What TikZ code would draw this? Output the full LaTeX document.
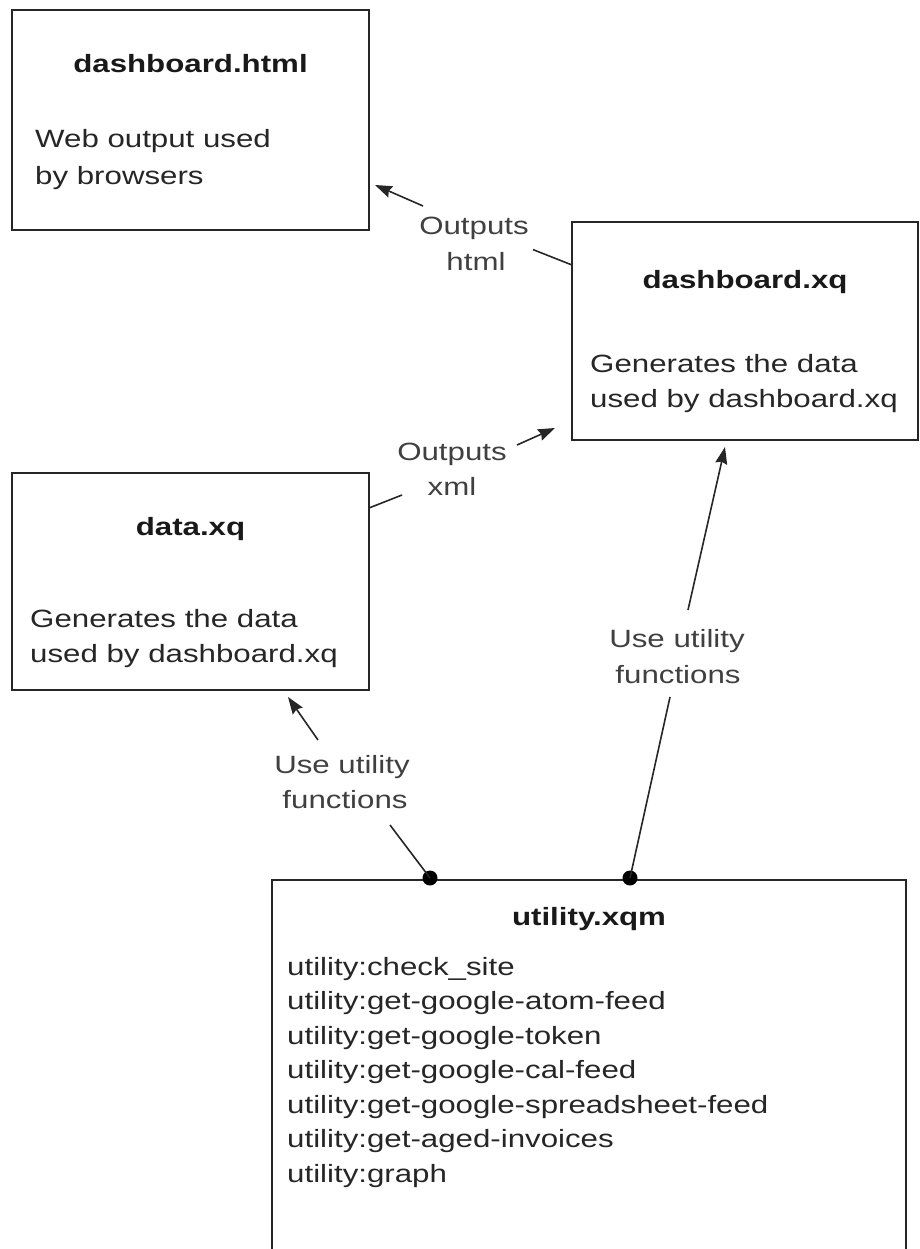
\documentclass[tikz,border=0pt]{standalone}
\usepackage{fontspec}
\setmainfont[FakeStretch=1.25]{Liberation Sans}
\usetikzlibrary{arrows.meta}

\begin{document}
\begin{tikzpicture}[x=1pt,y=-1pt,
  box/.style={draw=black!85, line width=1.8pt, inner sep=0pt, outer sep=0pt},
  title/.style={font=\fontsize{25}{35}\selectfont\bfseries, anchor=base, inner sep=0pt, text=black!90},
  body/.style={font=\fontsize{25}{35}\selectfont, anchor=base west, inner sep=0pt, text=black!85},
  lbl/.style={font=\fontsize{25}{35}\selectfont, anchor=base, inner sep=0pt, text=black!75},
  conn/.style={line width=1.6pt, draw=black!85},
  arr/.style={conn, -{Stealth[length=17pt,width=12pt,inset=2pt]}},
  dot/.style={circle, fill=black, inner sep=0pt, minimum size=15pt}
]
\useasboundingbox (0,0) rectangle (919,1249);
\clip (0,0) rectangle (919,1249);

% boxes
\node[box, minimum width=357pt, minimum height=220pt] (html) at (190.5,120) {};
\node[box, minimum width=346pt, minimum height=218pt] (dxq) at (745,331) {};
\node[box, minimum width=357pt, minimum height=217pt] (data) at (190.5,581.5) {};
\node[box, minimum width=634pt, minimum height=420pt] (util) at (589,1090) {};

% dashboard.html
\node[title] (htmlT) at (190.5,73) {dashboard.html};
\node[body] (htmlB1) at (35,148) {Web output used};
\node[body] (htmlB2) at (35,185) {by browsers};

% dashboard.xq
\node[title] (dxqT) at (745,288) {dashboard.xq};
\node[body] (dxqB1) at (590,372) {Generates the data};
\node[body] (dxqB2) at (590,407) {used by dashboard.xq};

% data.xq
\node[title] (dataT) at (190.5,535) {data.xq};
\node[body] (dataB1) at (30,627) {Generates the data};
\node[body] (dataB2) at (30,662) {used by dashboard.xq};

% utility.xqm
\node[title] (utilT) at (589,925) {utility.xqm};
\foreach \t [count=\i from 0] in {utility:check\_site,
    utility:get-google-atom-feed,
    utility:get-google-token,
    utility:get-google-cal-feed,
    utility:get-google-spreadsheet-feed,
    utility:get-aged-invoices,
    utility:graph}
  \node[body] (utilL\i) at (287,975+34.5*\i) {\t};

% connector labels
\node[lbl] (l1a) at (474,235) {Outputs};
\node[lbl] (l1b) at (476,270) {html};
\node[lbl] (l2a) at (452,460) {Outputs};
\node[lbl] (l2b) at (452,495) {xml};
\node[lbl] (l3a) at (342,773) {Use utility};
\node[lbl] (l3b) at (345,808) {functions};
\node[lbl] (l4a) at (677,647) {Use utility};
\node[lbl] (l4b) at (678,683) {functions};

% connector end points
\coordinate (c1s) at (dxq.west |- 0,265);
\coordinate (c1m) at (533,249.6);
\coordinate (c1n) at (423,206);
\coordinate (c1t) at (375,185);

\coordinate (c2s) at (data.east |- 0,508);
\coordinate (c2m) at (402,495);
\coordinate (c2n) at (517,445);
\coordinate (c2t) at (555,428);

\node[dot] (d3) at (430,878) {};
\coordinate (c3m) at (390,825);
\coordinate (c3n) at (318,740);
\coordinate (c3t) at (288,697);

\node[dot] (d4) at (630,878) {};
\coordinate (c4m) at (670,697);
\coordinate (c4n) at (688,610);
\coordinate (c4t) at (725,447);

% connectors
\draw[conn] (c1s) -- (c1m);
\draw[arr] (c1n) -- (c1t);
\draw[conn] (c2s) -- (c2m);
\draw[arr] (c2n) -- (c2t);
\draw[conn] (d3.center) -- (c3m);
\draw[arr] (c3n) -- (c3t);
\draw[conn] (d4.center) -- (c4m);
\draw[arr] (c4n) -- (c4t);
\end{tikzpicture}
\end{document}
